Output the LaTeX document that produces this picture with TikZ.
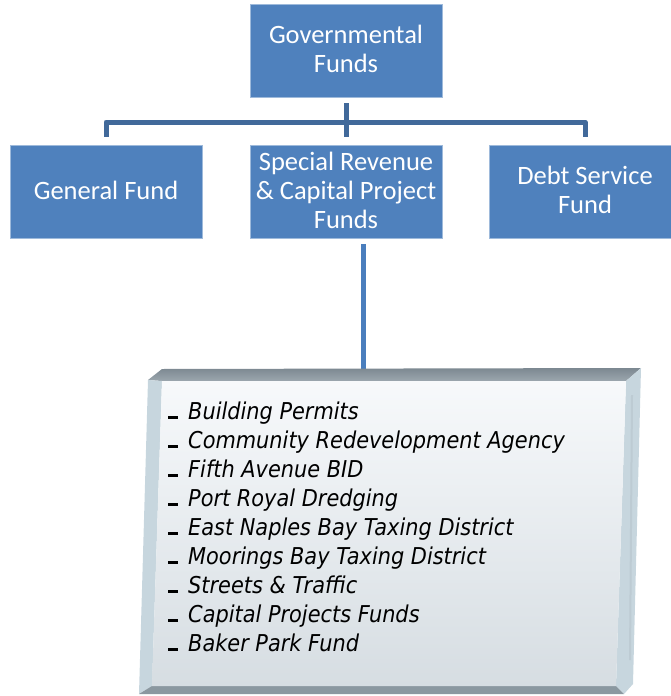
\documentclass[tikz,border=0pt]{standalone}
\usepackage{fontspec}
\setmainfont{Carlito}
\newfontfamily\listfont[FakeStretch=0.9]{DejaVu Sans}
\definecolor{boxblue}{HTML}{4F81BD}
\definecolor{barblue}{HTML}{41699A}
\definecolor{linkblue}{HTML}{4A7EBD}
\definecolor{topface}{HTML}{8A97A0}
\definecolor{topfacedark}{HTML}{7C8891}
\definecolor{sideface}{HTML}{C7D6DE}
\definecolor{bottomface}{HTML}{8B98A0}
\definecolor{fronttop}{HTML}{F7F9FB}
\definecolor{frontbot}{HTML}{D6DDE2}
\begin{document}
\begin{tikzpicture}[x=1pt,y=-1pt,
  fundbox/.style={rectangle, fill=boxblue, draw=boxblue!55!white, line width=0.8pt,
    minimum width=192pt, minimum height=93pt, inner sep=0pt, text=white, align=center,
    font=\fontsize{26.5}{29}\selectfont},
  fundtext/.style={inner sep=0pt, text=white, align=center,
    font=\fontsize{26.5}{29}\selectfont},
  conn/.style={draw=barblue, line width=5pt, line join=round},
  link/.style={draw=linkblue, line width=5pt},
  itemtext/.style={anchor=base west, inner sep=0pt, text=black,
    font=\listfont\itshape\fontsize{23.2}{29}\selectfont}]
\useasboundingbox (0,0) rectangle (671,696);
\clip (0,0) rectangle (671,696);

% boxes
\node[fundbox] (gov)  at (346,50.5)  {};
\node[fundbox] (gen)  at (106,191.5) {};
\node[fundbox] (spec) at (346,191.5) {};
\node[fundbox] (debt) at (585,191.5) {};
\node[fundtext] (govt)  at ([yshift=1.5pt]gov.center)  {Governmental\\Funds};
\node[fundtext] (gent)  at ([yshift=1pt]gen.center)  {General Fund};
\node[fundtext] (spect) at ([yshift=1.5pt]spec.center) {Special Revenue\\\& Capital Project\\Funds};
\node[fundtext] (debtt) at ([yshift=1.5pt]debt.center) {Debt Service\\Fund};

% connectors
\coordinate (bar) at (0,122);
\draw[conn] ([yshift=-6pt]gov.south) -- ([yshift=8pt]spec.north);
\draw[conn] ([yshift=8pt]gen.north) -- (gen.north |- bar) -- (debt.north |- bar) -- ([yshift=8pt]debt.north);

\coordinate (slabtop) at (363,372);
\draw[link] ([xshift=17pt,yshift=-6pt]spec.south) -- (slabtop);

% bevelled slab
\shade[top color=topfacedark, bottom color=topface!85!white]
  (148,380) -- (162,369) -- (641,368) -- (626,381) -- (162,381) -- cycle;
\fill[sideface] (641,368) -- (633,684) -- (624,694) -- (616,686) -- (626,381) -- cycle;
\fill[sideface!95!black] (633,395) -- (631,660) -- (629,660) -- (631,395) -- cycle;
\fill[sideface] (148,380) -- (162,381) -- (152,686) -- (139,694) -- cycle;
\fill[bottomface] (139,694) -- (152,686) -- (616,686) -- (624,694) -- cycle;
\shade[top color=fronttop, bottom color=frontbot]
  (162,381) -- (626,381) -- (616,686) -- (152,686) -- cycle;

% list items
\foreach \t [count=\k] in {Building Permits, Community Redevelopment Agency, Fifth Avenue BID,
  Port Royal Dredging, East Naples Bay Taxing District, Moorings Bay Taxing District,
  Streets \& Traffic, Capital Projects Funds, Baker Park Fund}
  \node[itemtext] (item\k) at (168,{419+29*(\k-1)}) {\rule{10pt}{3pt}\hspace{10pt}\t};
\end{tikzpicture}
\end{document}
